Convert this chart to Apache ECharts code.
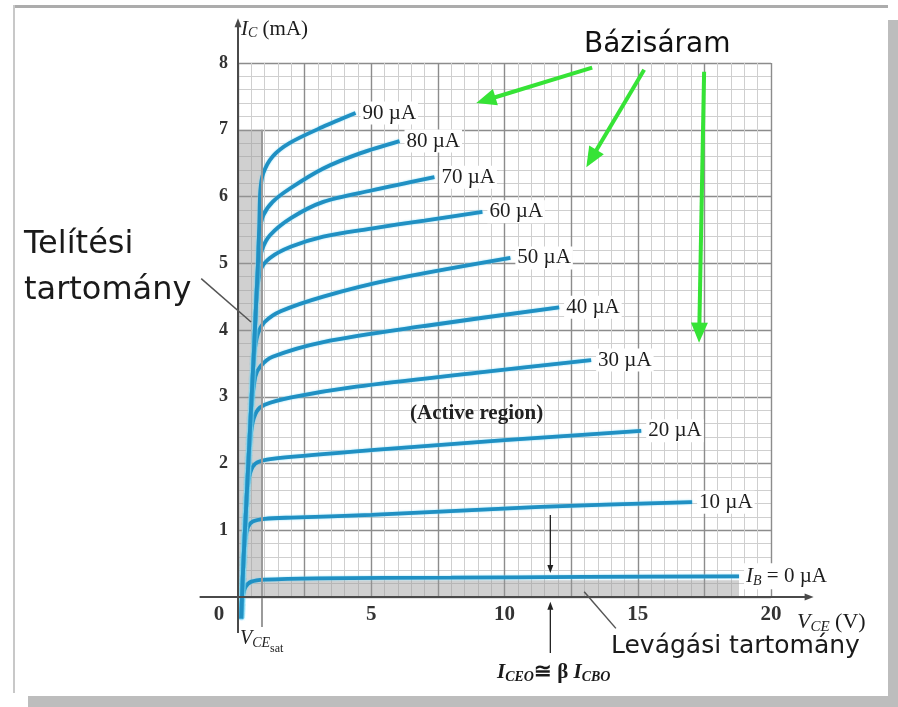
<!DOCTYPE html>
<html><head><meta charset="utf-8">
<script src="https://cdn.jsdelivr.net/npm/echarts@6/dist/echarts.min.js"></script>
<style>html,body{margin:0;padding:0;background:#fff}#c{width:898px;height:707px}</style>
</head><body><div id="c"></div>
<script>
// ---- data (V_CE in V, I_C in mA) ----
const xTickLabels = [0, 5, 10, 15, 20];
const yTickLabels = [1, 2, 3, 4, 5, 6, 7, 8];
const curveNames = ['{i|I}{s|B}{n| = 0 µA}', '10 µA', '20 µA', '30 µA', '40 µA', '50 µA', '60 µA', '70 µA', '80 µA', '90 µA'];
const ib0  = [[0.12,-0.32],[0.18,0],[0.28,0.15],[0.5,0.23],[1,0.26],[3,0.28],[8,0.29],[13,0.3],[18.8,0.31]];
const ib10 = [[0.12,-0.32],[0.2,0.5],[0.27,0.85],[0.38,1.05],[0.55,1.13],[1,1.17],[2,1.19],[5,1.23],[11.35,1.35],[17.04,1.42]];
const ib20 = [[0.12,-0.32],[0.2,0.5],[0.3,1.3],[0.4,1.75],[0.55,1.95],[0.8,2.03],[1.5,2.08],[5,2.2],[10,2.35],[15.13,2.49]];
const ib30 = [[0.12,-0.32],[0.2,0.5],[0.3,1.3],[0.4,2.0],[0.52,2.55],[0.7,2.78],[1.0,2.88],[2,2.99],[4.44,3.15],[9,3.36],[13.25,3.55]];
const ib40 = [[0.12,-0.32],[0.2,0.5],[0.3,1.3],[0.4,2.1],[0.5,2.8],[0.65,3.3],[0.85,3.46],[1.3,3.6],[3.2,3.82],[7,4.06],[12.05,4.34]];
const ib50 = [[0.12,-0.32],[0.2,0.5],[0.3,1.3],[0.4,2.1],[0.5,2.9],[0.6,3.6],[0.75,3.95],[1.0,4.12],[1.6,4.28],[3.2,4.5],[5.7,4.75],[10.22,5.08]];
const ib60 = [[0.12,-0.32],[0.2,0.5],[0.3,1.3],[0.4,2.1],[0.5,2.9],[0.6,3.7],[0.7,4.5],[0.85,4.9],[1.2,5.08],[2,5.25],[3.2,5.4],[5,5.52],[7,5.64],[9.17,5.77]];
const ib70 = [[0.12,-0.32],[0.2,0.5],[0.3,1.3],[0.4,2.1],[0.5,2.9],[0.6,3.7],[0.68,4.4],[0.75,4.9],[0.9,5.2],[1.2,5.42],[2,5.68],[3.2,5.92],[5,6.09],[7.37,6.29]];
const ib80 = [[0.12,-0.32],[0.2,0.5],[0.3,1.3],[0.4,2.1],[0.5,2.9],[0.6,3.7],[0.68,4.4],[0.75,5.0],[0.8,5.45],[0.95,5.72],[1.3,5.92],[1.95,6.12],[3.2,6.42],[4.6,6.65],[6.06,6.83]];
const ib90 = [[0.12,-0.32],[0.2,0.5],[0.3,1.3],[0.4,2.1],[0.5,2.9],[0.6,3.7],[0.68,4.4],[0.75,5.0],[0.8,5.6],[0.84,6.1],[0.95,6.35],[1.3,6.6],[1.93,6.8],[3.17,7.04],[4.41,7.25]];
const curves = [ib0, ib10, ib20, ib30, ib40, ib50, ib60, ib70, ib80, ib90];
const saturationRegion = [[0, 0], [0.9, 7]];
const cutoffRegion = [[0.9, 0], [18.8, 0.25]];
// annotation lines in data coordinates: [from, to]
const xAxisLine = [[-1.44, 0], [21.6, 0]];
const yAxisLine = [[0, -0.54], [0, 8.67]];
const vceSatLine = [[0.9, -0.45], [0.9, 7]];
const greenArrows = [[[13.29,7.93],[8.94,7.40]], [[15.24,7.90],[13.07,6.44]], [[17.49,7.87],[17.30,3.81]]];
const iceoArrows = [[[11.72,1.23],[11.72,0.36]], [[11.72,-0.84],[11.72,-0.07]]];
const leaderLines = [[[-1.38,4.77],[0.49,4.12]], [[12.99,0.08],[14.18,-0.47]]];

const SERIF = '"Liberation Serif", "Times New Roman", serif';
const SANS = '"DejaVu Sans", sans-serif';
const chart = echarts.init(document.getElementById('c'));

const series = curves.map((pts, i) => ({
  type: 'line',
  data: pts,
  smooth: 0.3,
  showSymbol: false,
  symbol: 'none',
  clip: false,
  z: 3,
  lineStyle: { color: '#2090c3', width: 3.8, shadowColor: 'rgba(120,215,245,0.9)', shadowBlur: 2 },
  endLabel: {
    show: true,
    formatter: () => curveNames[i],
    distance: 5,
    fontFamily: SERIF, fontSize: 21, color: '#1e1e1e',
    backgroundColor: '#fff', padding: [1, 2],
    rich: {
      i: { fontFamily: SERIF, fontSize: 21, fontStyle: 'italic', color: '#1e1e1e' },
      s: { fontFamily: SERIF, fontSize: 14, fontStyle: 'italic', color: '#1e1e1e', padding: [10, 0, 0, 0] },
      n: { fontFamily: SERIF, fontSize: 21, color: '#1e1e1e' }
    }
  },
  markArea: i === 0 ? {
    silent: true,
    itemStyle: { color: 'rgba(150,150,150,0.45)' },
    data: [
      [{ coord: saturationRegion[0] }, { coord: saturationRegion[1] }],
      [{ coord: cutoffRegion[0] }, { coord: cutoffRegion[1] }]
    ]
  } : undefined
}));

chart.setOption({
  animation: false,
  backgroundColor: '#fff',
  grid: { left: 238, top: 63, right: 127, bottom: 110, containLabel: false },
  xAxis: {
    type: 'value', min: 0, max: 20, interval: 2.5,
    axisLine: { show: false }, axisTick: { show: false },
    axisLabel: {
      showMinLabel: true, showMaxLabel: true, margin: 7,
      fontFamily: SERIF, fontSize: 21, fontWeight: 'bold', color: '#333',
      formatter: v => v === 0 ? '{z|0}' : (xTickLabels.indexOf(v) >= 0 ? String(v) : ''),
      rich: { z: { fontFamily: SERIF, fontSize: 21, fontWeight: 'bold', color: '#333', padding: [0, 38, 0, 0] } }
    },
    splitLine: { show: true, lineStyle: { color: '#8c8c8c', width: 1.4 } },
    minorTick: { show: false, splitNumber: 5 },
    minorSplitLine: { show: true, lineStyle: { color: '#cfcfcf', width: 1 } }
  },
  yAxis: {
    type: 'value', min: 0, max: 8, interval: 1,
    axisLine: { show: false }, axisTick: { show: false },
    axisLabel: {
      margin: 10, fontFamily: SERIF, fontSize: 18, fontWeight: 'bold', color: '#333',
      formatter: v => yTickLabels.indexOf(v) >= 0 ? String(v) : ''
    },
    splitLine: { show: true, lineStyle: { color: '#8c8c8c', width: 1.4 } },
    minorTick: { show: false, splitNumber: 5 },
    minorSplitLine: { show: true, lineStyle: { color: '#cfcfcf', width: 1 } }
  },
  series: series
});

// ---- annotations (converted through the chart's own scales) ----
const toPx = p => chart.convertToPixel({ xAxisIndex: 0, yAxisIndex: 0 }, p);
const g = [];
function addLine(seg, color, width, head) {
  const a = toPx(seg[0]), b = toPx(seg[1]);
  let end = b;
  if (head) {
    const dx = b[0] - a[0], dy = b[1] - a[1], L = Math.hypot(dx, dy);
    const ux = dx / L, uy = dy / L, nx = -uy, ny = ux;
    const bx = b[0] - ux * head[0], by = b[1] - uy * head[0];
    end = [bx + ux * 1, by + uy * 1];
    g.push({ type: 'polygon', z: 50, shape: { points: [b, [bx + nx * head[1] / 2, by + ny * head[1] / 2], [bx - nx * head[1] / 2, by - ny * head[1] / 2]] }, style: { fill: color } });
  }
  g.push({ type: 'line', z: 49, shape: { x1: a[0], y1: a[1], x2: end[0], y2: end[1] }, style: { stroke: color, lineWidth: width } });
}
addLine(vceSatLine, '#9a9a9a', 2);
addLine(xAxisLine, '#4a4a4a', 2, [9, 7]);
addLine(yAxisLine, '#4a4a4a', 2, [9, 7]);
greenArrows.forEach(s => addLine(s, '#36e336', 4, [20, 17]));
iceoArrows.forEach(s => addLine(s, '#222', 1.3, [8, 6]));
leaderLines.forEach(s => addLine(s, '#555', 1.5));

function txt(x, y, text, style) {
  g.push({ type: 'text', z: 60, x: x, y: y, style: Object.assign({ text: text, fill: '#1a1a1a', align: 'left', verticalAlign: 'middle' }, style) });
}
const it = sz => ({ fontFamily: SERIF, fontSize: sz, fontStyle: 'italic', fill: '#222', color: '#222' });
txt(584, 45, 'Bázisáram', { font: '28px ' + SANS, fill: '#111' });
txt(24, 245, 'Telítési', { font: '32px ' + SANS });
txt(24, 291, 'tartomány', { font: '32px ' + SANS });
txt(611, 646, 'Levágási tartomány', { font: '25px ' + SANS });
txt(410, 414, '(Active region)', { font: 'bold 21px ' + SERIF, fill: '#222' });
txt(241, 29, '{i|I}{s|C}{n| (mA)}', { rich: { i: it(21), s: Object.assign(it(14), { padding: [9, 0, 0, 0] }), n: { fontFamily: SERIF, fontSize: 21, color: '#222' } } });
txt(797, 622, '{i|V}{s|CE}{n| (V)}', { rich: { i: it(22), s: Object.assign(it(15), { padding: [10, 0, 0, 0] }), n: { fontFamily: SERIF, fontSize: 22, color: '#222' } } });
txt(240, 639, '{i|V}{s|CE}{t|sat}', { rich: { i: it(20), s: Object.assign(it(14), { padding: [9, 0, 0, 0] }), t: { fontFamily: SERIF, fontSize: 12, color: '#222', padding: [20, 0, 0, 0] } } });
const bi = sz => ({ fontFamily: SERIF, fontSize: sz, fontStyle: 'italic', fontWeight: 'bold', color: '#222' });
txt(497, 673, '{i|I}{s|CEO}{n|≅ β}{i| I}{s|CBO}', { rich: { i: bi(21), s: Object.assign(bi(14), { padding: [9, 0, 0, 0] }), n: { fontFamily: SERIF, fontSize: 21, fontWeight: 'bold', color: '#222' } } });

// frame
g.push({ type: 'rect', z: 1, shape: { x: 13, y: 5, width: 875, height: 3 }, style: { fill: '#acacac' } });
g.push({ type: 'rect', z: 1, shape: { x: 13, y: 5, width: 2, height: 688 }, style: { fill: '#c8c8c8' } });
g.push({ type: 'rect', z: 1, shape: { x: 888, y: 20, width: 10, height: 687 }, style: { fill: '#bdbdbd' } });
g.push({ type: 'rect', z: 1, shape: { x: 28, y: 696, width: 870, height: 11 }, style: { fill: '#bdbdbd' } });

chart.setOption({ graphic: { elements: g } });
</script></body></html>
